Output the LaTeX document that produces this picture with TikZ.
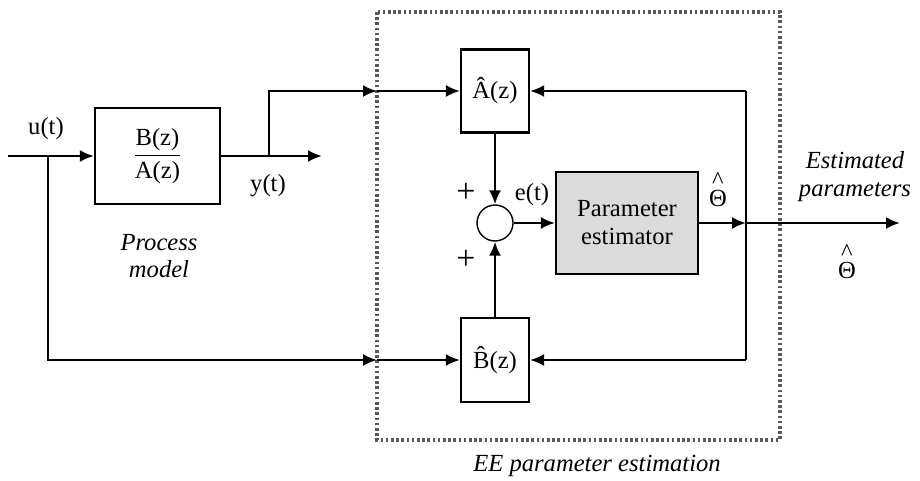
\documentclass[tikz,border=0pt]{standalone}
\usepackage{fontspec}
\setmainfont{Liberation Serif}
\usetikzlibrary{arrows.meta}

\tikzset{
  block/.style={draw,line width=1.1pt,inner sep=0pt,align=center},
  sig/.style={line width=1.1pt,-{Latex[length=7pt,width=6pt]}},
  wire/.style={line width=1.1pt},
  lbl/.style={inner sep=0pt},
}
\newcommand{\hatlbl}[1]{\^{}\\[-5pt]#1}

\begin{document}
\begin{tikzpicture}[x=0.5pt,y=-0.5pt,font=\fontsize{12.3}{14}\selectfont]
  \useasboundingbox (0,0) rectangle (920,481);

  % estimation frame
  \draw[gray!70!black,line width=1.6pt,dash pattern=on 1.3pt off 1.3pt] (377,12) rectangle (780,440);
  \node[lbl,font=\fontsize{12.3}{14}\selectfont\itshape] (frametxt) at (597,466) {EE parameter estimation};

  % blocks
  \node[block,minimum width=62.5pt,minimum height=48pt] (plant) at (157.5,156)
    {$\displaystyle\frac{\textrm{B(z)}}{\textrm{A(z)}}$};
  \node[block,minimum width=34pt,minimum height=41.5pt] (ahat) at (495,91) {\^{A}(z)};
  \node[block,minimum width=34pt,minimum height=42pt] (bhat) at (495,360) {\^{B}(z)};
  \node[draw,circle,line width=0.7pt,minimum size=18pt,inner sep=0pt] (sum) at (495,223) {};
  \node[block,fill=black!14,minimum width=71pt,minimum height=51pt] (est) at (627,223)
    {Parameter\\estimator};

  \coordinate (uin) at (8,156);
  \coordinate (ub) at (48,156);
  \coordinate (yb) at (269,156);
  \coordinate (yout) at (322,156);
  \coordinate (tl) at (377,91);
  \coordinate (bl) at (377,360);
  \coordinate (fb) at (746,223);
  \coordinate (fbt) at (746,91);
  \coordinate (fbb) at (746,360);
  \coordinate (thout) at (900,223);

  % plant
  \draw[sig] (uin) -- (plant.west);
  \draw[sig] (plant.east) -- (yout);
  \draw[sig] (yb) |- (tl);
  \draw[sig] (tl) -- (ahat.west);
  \draw[sig] (ub) |- (bl);
  \draw[sig] (bl) -- (bhat.west);

  % error and estimator
  \draw[sig] (ahat.south) -- (sum.north);
  \draw[sig] (bhat.north) -- (sum.south);
  \draw[sig] (sum.east) -- (est.west);
  \draw[sig] (est.east) -- (fb);
  \draw[sig] (fb) -- (thout);
  \draw[wire] (fbt) -- (fbb);
  \draw[sig] (fbt) -- (ahat.east);
  \draw[sig] (fbb) -- (bhat.east);

  % labels
  \node[lbl] (ulbl) at (46,129) {u(t)};
  \node[lbl] (ylbl) at (268,186) {y(t)};
  \node[lbl,align=center,font=\fontsize{12.3}{13.5}\selectfont\itshape] (pmlbl) at (159,256) {Process\\model};
  \node[lbl,font=\fontsize{17}{17}\selectfont] (plus1) at (466,193) {+};
  \node[lbl,font=\fontsize{17}{17}\selectfont] (plus2) at (466,260) {+};
  \node[lbl] (elbl) at (532,195) {e(t)};
  \node[lbl,align=center] (th1) at (718,190) {\hatlbl{Θ}};
  \node[lbl,align=center,font=\fontsize{12.3}{14}\selectfont\itshape] (estlbl) at (855,177) {Estimated\\parameters};
  \node[lbl,align=center] (th2) at (847,262) {\hatlbl{Θ}};
\end{tikzpicture}
\end{document}
